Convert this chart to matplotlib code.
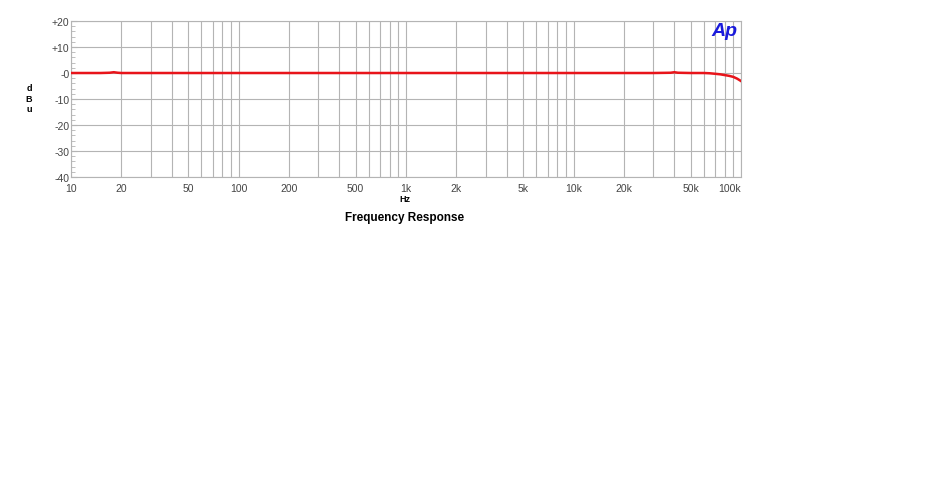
import matplotlib.pyplot as plt
from matplotlib.ticker import FixedLocator, MultipleLocator, NullFormatter

# Frequency response data
freq_hz = [10, 12, 15, 17, 18, 19, 20, 25, 30, 50, 100, 200, 500, 1000, 2000, 5000,
           10000, 20000, 30000, 38000, 40000, 42000, 50000, 60000, 65000, 70000,
           75000, 80000, 85000, 90000, 95000, 100000]
level_db = [0.0, 0.0, 0.0, 0.1, 0.3, 0.1, 0.0, 0.0, 0.0, 0.0, 0.0, 0.0, 0.0, 0.0, 0.0, 0.0,
            0.0, 0.0, 0.0, 0.1, 0.3, 0.1, 0.0, 0.0, -0.1, -0.3,
            -0.5, -0.8, -1.1, -1.5, -2.2, -3.1]

x_ticks = [10, 20, 50, 100, 200, 500, 1000, 2000, 5000, 10000, 20000, 50000, 100000]
x_tick_labels = ["10", "20", "50", "100", "200", "500", "1k", "2k", "5k", "10k", "20k", "50k", "100k"]
y_ticks = [20, 10, 0, -10, -20, -30, -40]
y_tick_labels = ["+20", "+10", "-0", "-10", "-20", "-30", "-40"]

plt.rcParams['font.family'] = ['Liberation Sans', 'DejaVu Sans']

fig = plt.figure(figsize=(9.44, 4.81), dpi=100)
ax = fig.add_axes([71 / 944, 1 - 178 / 481, (741 - 71) / 944, (178 - 22) / 481])

ax.plot(freq_hz, level_db, color="#e8141a", linewidth=1.8, zorder=3)

ax.set_xscale("log")
ax.set_xlim(10, 100000)
ax.set_ylim(-40, 20)

# Vertical grid at every 1..9 x decade
grid_x = [m * 10 ** d for d in range(1, 5) for m in range(1, 10)] + [100000]
ax.xaxis.set_major_locator(FixedLocator(x_ticks))
ax.xaxis.set_minor_locator(FixedLocator(grid_x))
ax.xaxis.set_minor_formatter(NullFormatter())
ax.set_xticklabels(x_tick_labels)
ax.set_yticks(y_ticks)
ax.set_yticklabels(y_tick_labels)
ax.yaxis.set_minor_locator(MultipleLocator(2))

ax.grid(which="both", axis="x", color="#b4b4b4", linewidth=0.8)
ax.grid(which="major", axis="y", color="#b4b4b4", linewidth=0.8)

ax.tick_params(axis="x", which="both", length=0, labelsize=7.5, colors="#444444", pad=4)
ax.tick_params(axis="y", which="major", direction="in", length=4, labelsize=7.5,
               colors="#444444", pad=1, color="#b4b4b4")
ax.tick_params(axis="y", which="minor", direction="in", length=3, color="#b4b4b4")
for lbl in ax.get_xticklabels():
    if lbl.get_text() == "100k":
        lbl.set_horizontalalignment("right")

for spine in ax.spines.values():
    spine.set_color("#b4b4b4")
    spine.set_linewidth(0.8)

fig.text(29 / 944, 1 - 99 / 481, "d\nB\nu", ha="center", va="center",
         fontsize=6.5, fontweight="bold", linespacing=1.25)
fig.text(405 / 944, 1 - 200 / 481, "Hz", ha="center", va="center",
         fontsize=6.5, fontweight="bold")
fig.text(405 / 944, 1 - 218 / 481, "Frequency Response", ha="center", va="center",
         fontsize=8.5, fontweight="bold")
ax.text(0.994, 0.94, "Ap", transform=ax.transAxes, ha="right", va="center",
        fontsize=14, fontweight="bold", fontstyle="italic", color="#1a1adc", zorder=4)

plt.savefig("out.png", dpi=100)
